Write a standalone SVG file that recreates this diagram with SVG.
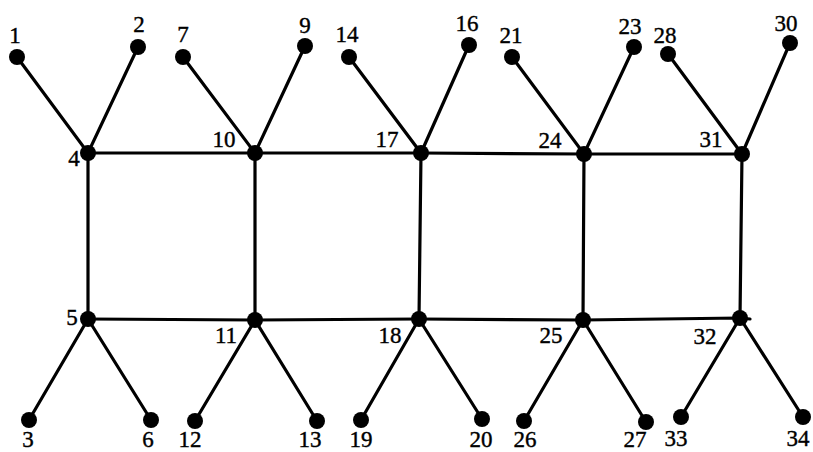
<svg xmlns="http://www.w3.org/2000/svg" width="813" height="452" viewBox="0 0 813 452">
<style>
.e{stroke:#000;stroke-width:3.2;fill:none;stroke-linecap:round}
.n{fill:#000}
.t{font-family:"Liberation Serif","Times New Roman",serif;font-size:23px;fill:#000;text-anchor:middle;stroke:#000;stroke-width:0.4}
</style>
<rect width="813" height="452" fill="#fff"/>
<g id="connectors">
<path class="e" d="M88,153 L255,153 L421,153 L584,154 L742,154"/>
<path class="e" d="M88,319 L255,320 L419,319 L583,320 L740,318 L750,319"/>
<path class="e" d="M88,153 V319 M255,153 V320 M421,153 L419,319 M584,154 L583,320 M742,154 L740,318"/>
<path class="e" d="M17,57 L88,153 L138,47 M183,57 L255,153 L305,46 M349,57 L421,153 L469,45 M512,57 L584,154 L634,47 M668,54 L742,154 L790,43"/>
<path class="e" d="M29,420 L88,319 L151,420 M195,421 L255,320 L317,421 M361,420 L419,319 L482,419 M524,421 L583,320 L646,422 M681,417 L740,318 L803,417"/>
</g>
<g id="n1"><circle class="n" cx="17" cy="57" r="8"/><text class="t" x="15" y="43">1</text></g>
<g id="n2"><circle class="n" cx="138" cy="47" r="8"/><text class="t" x="139" y="32">2</text></g>
<g id="n3"><circle class="n" cx="29" cy="420" r="8"/><text class="t" x="28" y="447">3</text></g>
<g id="n4"><circle class="n" cx="88" cy="153" r="8"/><text class="t" x="74" y="166">4</text></g>
<g id="n5"><circle class="n" cx="88" cy="319" r="8"/><text class="t" x="72" y="325">5</text></g>
<g id="n6"><circle class="n" cx="151" cy="420" r="8"/><text class="t" x="148" y="447">6</text></g>
<g id="n7"><circle class="n" cx="183" cy="57" r="8"/><text class="t" x="183" y="42">7</text></g>
<g id="n9"><circle class="n" cx="305" cy="46" r="8"/><text class="t" x="305" y="33">9</text></g>
<g id="n10"><circle class="n" cx="255" cy="153" r="8"/><text class="t" x="224" y="147">10</text></g>
<g id="n11"><circle class="n" cx="255" cy="320" r="8"/><text class="t" x="226" y="343">11</text></g>
<g id="n12"><circle class="n" cx="195" cy="421" r="8"/><text class="t" x="190" y="447">12</text></g>
<g id="n13"><circle class="n" cx="317" cy="421" r="8"/><text class="t" x="310" y="447">13</text></g>
<g id="n14"><circle class="n" cx="349" cy="57" r="8"/><text class="t" x="347" y="42">14</text></g>
<g id="n16"><circle class="n" cx="469" cy="45" r="8"/><text class="t" x="467" y="31">16</text></g>
<g id="n17"><circle class="n" cx="421" cy="153" r="8"/><text class="t" x="387" y="147">17</text></g>
<g id="n18"><circle class="n" cx="419" cy="319" r="8"/><text class="t" x="390" y="343">18</text></g>
<g id="n19"><circle class="n" cx="361" cy="420" r="8"/><text class="t" x="361" y="447">19</text></g>
<g id="n20"><circle class="n" cx="482" cy="419" r="8"/><text class="t" x="481" y="447">20</text></g>
<g id="n21"><circle class="n" cx="512" cy="57" r="8"/><text class="t" x="511" y="43">21</text></g>
<g id="n23"><circle class="n" cx="634" cy="47" r="8"/><text class="t" x="630" y="34">23</text></g>
<g id="n24"><circle class="n" cx="584" cy="154" r="8"/><text class="t" x="550" y="148">24</text></g>
<g id="n25"><circle class="n" cx="583" cy="320" r="8"/><text class="t" x="551" y="343">25</text></g>
<g id="n26"><circle class="n" cx="524" cy="421" r="8"/><text class="t" x="525" y="447">26</text></g>
<g id="n27"><circle class="n" cx="646" cy="422" r="8"/><text class="t" x="635" y="447">27</text></g>
<g id="n28"><circle class="n" cx="668" cy="54" r="8"/><text class="t" x="665" y="43">28</text></g>
<g id="n30"><circle class="n" cx="790" cy="43" r="8"/><text class="t" x="786" y="31">30</text></g>
<g id="n31"><circle class="n" cx="742" cy="154" r="8"/><text class="t" x="711" y="147">31</text></g>
<g id="n32"><circle class="n" cx="740" cy="318" r="8"/><text class="t" x="705" y="344">32</text></g>
<g id="n33"><circle class="n" cx="681" cy="417" r="8"/><text class="t" x="676" y="446">33</text></g>
<g id="n34"><circle class="n" cx="803" cy="417" r="8"/><text class="t" x="798" y="446">34</text></g>
</svg>
